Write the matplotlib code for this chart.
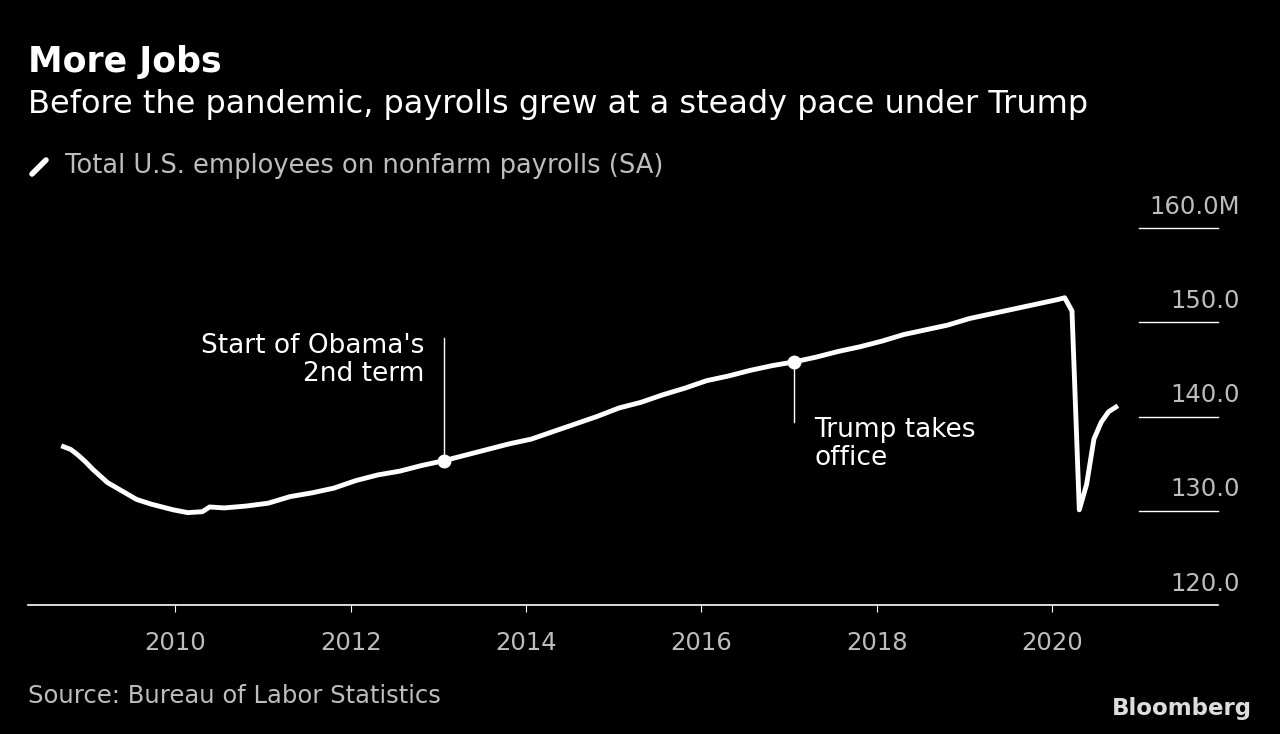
import matplotlib.pyplot as plt
import matplotlib.transforms as mtransforms
from matplotlib.lines import Line2D

# (year, month, millions)
dates = [(2008, 9), (2008, 10), (2008, 11), (2008, 12), (2009, 1), (2009, 3), (2009, 5), (2009, 7),
         (2009, 9), (2009, 12), (2010, 2), (2010, 4), (2010, 5), (2010, 7), (2010, 10), (2011, 1),
         (2011, 4), (2011, 7), (2011, 10), (2012, 1), (2012, 4), (2012, 7), (2012, 10), (2013, 1),
         (2013, 4), (2013, 7), (2013, 10), (2014, 1), (2014, 4), (2014, 7), (2014, 10), (2015, 1),
         (2015, 4), (2015, 7), (2015, 10), (2016, 1), (2016, 4), (2016, 7), (2016, 10), (2017, 1),
         (2017, 4), (2017, 7), (2017, 10), (2018, 1), (2018, 4), (2018, 7), (2018, 10), (2019, 1),
         (2019, 4), (2019, 7), (2019, 10), (2020, 1), (2020, 2), (2020, 3), (2020, 4), (2020, 5),
         (2020, 6), (2020, 7), (2020, 8), (2020, 9)]
payrolls = [136.8, 136.5, 135.9, 135.2, 134.4, 133.0, 132.1, 131.2,
            130.7, 130.1, 129.8, 129.9, 130.4, 130.3, 130.5, 130.8,
            131.5, 131.9, 132.4, 133.2, 133.8, 134.2, 134.8, 135.3,
            135.9, 136.5, 137.1, 137.6, 138.4, 139.2, 140.0, 140.9,
            141.5, 142.3, 143.0, 143.8, 144.3, 144.9, 145.4, 145.8,
            146.3, 146.9, 147.4, 148.0, 148.7, 149.2, 149.7, 150.4,
            150.9, 151.4, 151.9, 152.4, 152.6, 151.2, 130.1, 132.8,
            137.6, 139.4, 140.5, 141.0]
yticks = [120, 130, 140, 150, 160]
ytick_labels = ["120.0", "130.0", "140.0", "150.0", "160.0M"]
xticks = [2010, 2012, 2014, 2016, 2018, 2020]

x = [y + (m - 0.3) / 12 for y, m in dates]
grey = "#bdbdbd"

fig = plt.figure(figsize=(12.8, 7.34), dpi=100, facecolor="black")
ax = fig.add_axes([28 / 1280, 1 - 605 / 734, 1190 / 1280, 377 / 734])
ax.set_facecolor("black")
ax.plot(x, payrolls, color="white", lw=3.5, solid_joinstyle="round", clip_on=False)

ax.set_xlim(2008.32, 2021.89)
ax.set_ylim(120, 160)
for s in ["top", "right", "left"]:
    ax.spines[s].set_visible(False)
ax.spines["bottom"].set_color("white")
ax.spines["bottom"].set_linewidth(1.2)
ax.set_yticks([])
ax.set_xticks(xticks)
ax.set_xticklabels([str(t) for t in xticks])
ax.tick_params(axis="x", colors=grey, labelsize=17.5, length=5, pad=14)
ax.tick_params(axis="x", color="white")

# right-side y labels with short gridlines
trans = mtransforms.blended_transform_factory(ax.transAxes, ax.transData)
for v, lab in zip(yticks, ytick_labels):
    if v != 120:
        ax.plot([0.934, 1.0], [v, v], color="white", lw=1, transform=trans, clip_on=False)
    ax.text(1.018, v + 1.0, lab, transform=trans, ha="right", va="bottom", color=grey, fontsize=17.5)

# annotations
obama = x[dates.index((2013, 1))], payrolls[dates.index((2013, 1))]
trump = x[dates.index((2017, 1))], payrolls[dates.index((2017, 1))]
ax.plot(*obama, "o", color="white", ms=9)
ax.plot(*trump, "o", color="white", ms=9)
ax.plot([obama[0], obama[0]], [obama[1], 148.3], color="white", lw=1)
ax.plot([trump[0], trump[0]], [trump[1], 139.4], color="white", lw=1)
ax.text(obama[0] - 0.22, 148.9, "Start of Obama's\n2nd term", ha="right", va="top",
        color="white", fontsize=19, linespacing=1.1)
ax.text(trump[0] + 0.23, 139.9, "Trump takes\noffice", ha="left", va="top",
        color="white", fontsize=19, linespacing=1.1)

fig.text(28 / 1280, 1 - 62 / 734, "More Jobs", color="white", fontsize=25, fontweight="bold", va="center")
fig.text(28 / 1280, 1 - 104 / 734, "Before the pandemic, payrolls grew at a steady pace under Trump",
         color="white", fontsize=23, va="center")
fig.add_artist(Line2D([32 / 1280, 46 / 1280], [1 - 174 / 734, 1 - 160 / 734], color="white", lw=4,
                      solid_capstyle="round"))
fig.text(65 / 1280, 1 - 166 / 734, "Total U.S. employees on nonfarm payrolls (SA)", color=grey,
         fontsize=18.5, va="center")
fig.text(28 / 1280, 1 - 696 / 734, "Source: Bureau of Labor Statistics", color=grey, fontsize=17.5, va="center")
fig.text(1252 / 1280, 1 - 709 / 734, "Bloomberg", color="#dddddd", fontsize=16.5, fontweight="bold",
         ha="right", va="center")

fig.savefig("out.png", dpi=100, facecolor="black")
